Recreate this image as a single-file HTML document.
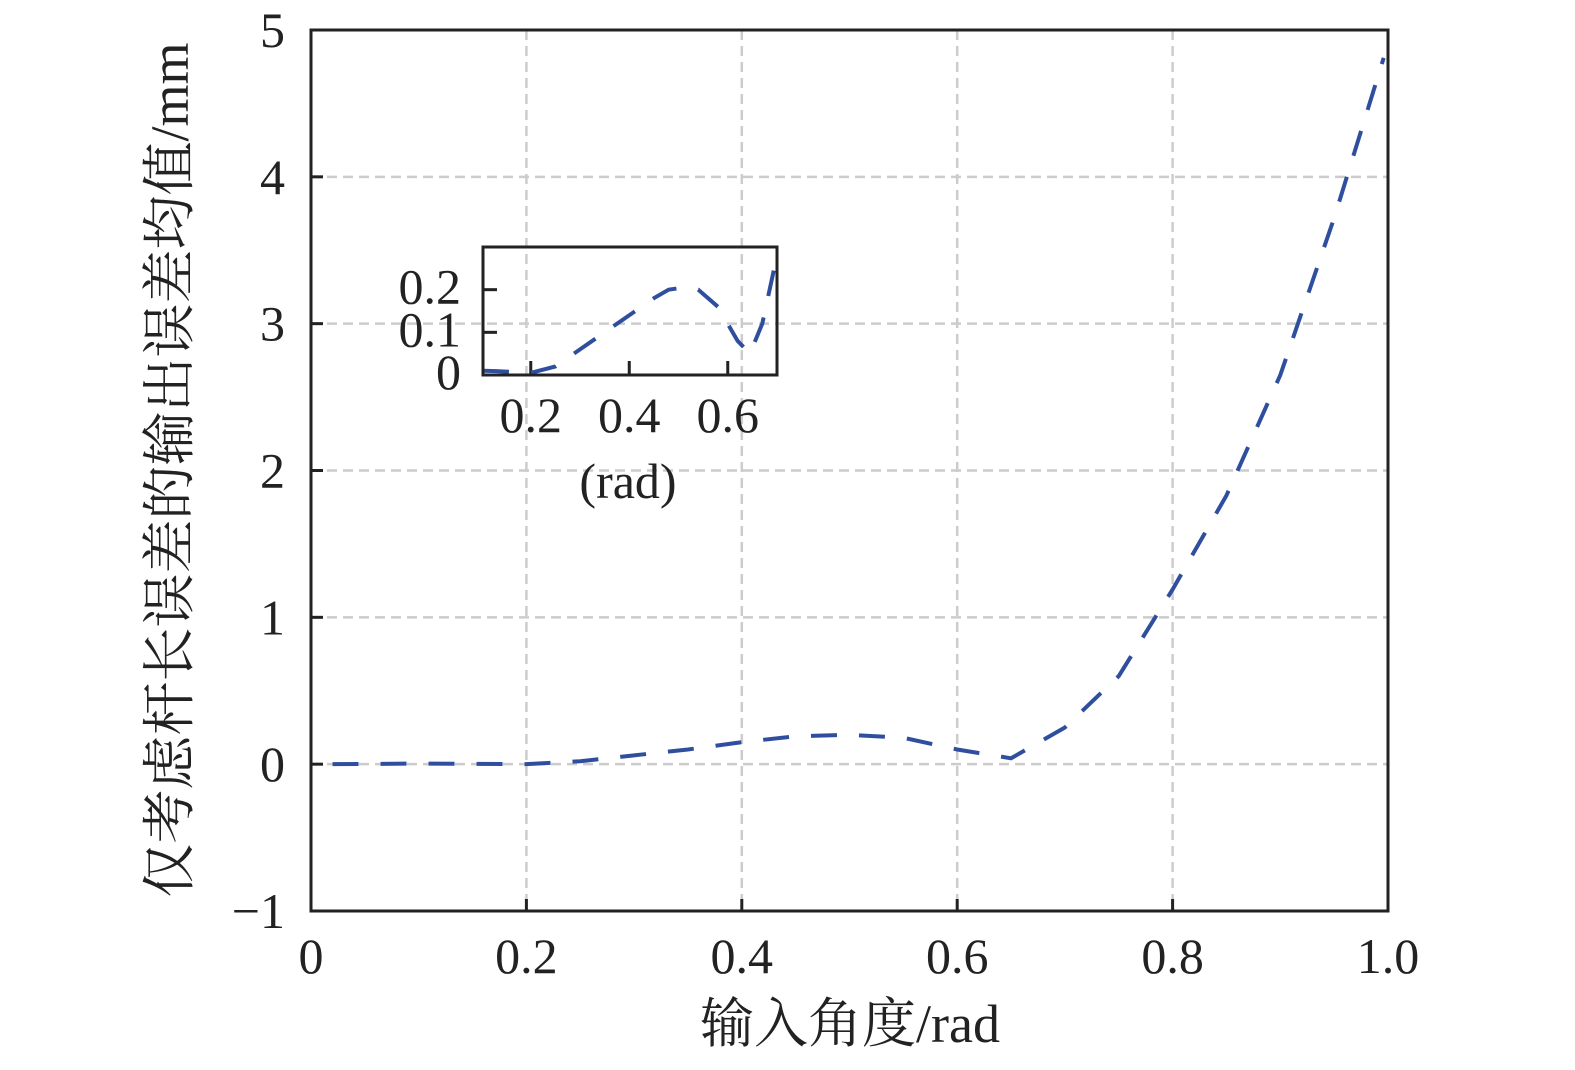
<!DOCTYPE html>
<html><head><meta charset="utf-8"><style>
body{margin:0;background:#fff;}
svg text{font-family:"Liberation Serif","Noto Serif CJK SC",serif;fill:#222;}
</style></head><body>
<svg id="chart" width="1575" height="1065" viewBox="0 0 1575 1065" xmlns="http://www.w3.org/2000/svg">
<g id="grid"></g>
<g id="series"></g>
<g id="axes"></g>
<g id="inset"></g>
<text x="850" y="1042" font-size="54" text-anchor="middle">输入角度/rad</text>
<text transform="translate(188,470) rotate(-90)" font-size="54" text-anchor="middle">仅考虑杆长误差的输出误差均值/mm</text>
</svg>
<script>
const xs = [0.02,0.1,0.2,0.25,0.3,0.35,0.4,0.45,0.5,0.55,0.6,0.65,0.7,0.75,0.8,0.85,0.9,0.95,0.996];
const ys = [0,0.004,0,0.02,0.06,0.1,0.15,0.19,0.2,0.18,0.1,0.04,0.25,0.6,1.19,1.83,2.65,3.72,4.81];
const xTicks = [0,0.2,0.4,0.6,0.8,1.0];
const xTickLabels = ["0","0.2","0.4","0.6","0.8","1.0"];
const yTicks = [-1,0,1,2,3,4,5];
const yTickLabels = ["\u22121","0","1","2","3","4","5"];
const insetXs = [0.103,0.13,0.2,0.25,0.3,0.35,0.4,0.45,0.48,0.51,0.54,0.58,0.62,0.645,0.67,0.7];
const insetYs = [0.01,0.009,0.005,0.02,0.06,0.1,0.14,0.18,0.2,0.205,0.2,0.16,0.08,0.05,0.12,0.28];
const insetXTicks = [0.2,0.4,0.6];
const insetXTickLabels = ["0.2","0.4","0.6"];
const insetYTicks = [0,0.1,0.2];
const insetYTickLabels = ["0","0.1","0.2"];

const NS="http://www.w3.org/2000/svg";
function mk(t,a,p){const e=document.createElementNS(NS,t);for(const k in a)e.setAttribute(k,a[k]);p.appendChild(e);return e;}
const L=311,R=1388,T=30,B=911;
const sx=v=>L+(v-0)/(1-0)*(R-L);
const sy=v=>B-(v+1)/6*(B-T);
const grid=document.getElementById('grid'),axes=document.getElementById('axes'),ser=document.getElementById('series'),ins=document.getElementById('inset');
xTicks.forEach((v,i)=>{
 if(v>0&&v<1){const g=mk('line',{x1:sx(v),x2:sx(v),y1:T,y2:B,stroke:'#ccc','stroke-width':2.5,'stroke-dasharray':'10 6'},grid);
 
 }
 const t=mk('line',{x1:sx(v),x2:sx(v),y1:B,y2:B-12,stroke:'#222','stroke-width':3},axes);
 
 
 const tx=mk('text',{x:sx(v),y:973,'font-size':50,'text-anchor':'middle'},axes);tx.textContent=xTickLabels[i];
 
 
});
yTicks.forEach((v,i)=>{
 if(v>-1&&v<5){const g=mk('line',{x1:L,x2:R,y1:sy(v),y2:sy(v),stroke:'#ccc','stroke-width':2.5,'stroke-dasharray':'10 6'},grid);
 
 }
 const t=mk('line',{x1:L,x2:L+12,y1:sy(v),y2:sy(v),stroke:'#222','stroke-width':3},axes);
 
 
 const tx=mk('text',{x:285,y:sy(v)+17,'font-size':50,'text-anchor':'end'},axes);tx.textContent=yTickLabels[i];
 
 
});
const fr=mk('rect',{x:L,y:T,width:R-L,height:B-T,fill:'none',stroke:'#222','stroke-width':3},axes);


const ln=mk('polyline',{points:xs.map((x,i)=>sx(x)+','+sy(ys[i])).join(' '),fill:'none',stroke:'#2f4f9e','stroke-width':4,'stroke-dasharray':'26 22'},ser);



// inset
const iL=483,iR=777,iT=247,iB=375;
const ix=v=>iL+(v-0.103)/(0.7-0.103)*(iR-iL);
const iy=v=>iB-v/0.3*(iB-iT);
insetXTicks.forEach((v,i)=>{
 const t=mk('line',{x1:ix(v),x2:ix(v),y1:iB,y2:iB-14,stroke:'#222','stroke-width':3},ins);
 
 
 const tx=mk('text',{x:ix(v),y:432,'font-size':50,'text-anchor':'middle'},ins);tx.textContent=insetXTickLabels[i];
 
 
});
insetYTicks.forEach((v,i)=>{
 const t=mk('line',{x1:iL,x2:iL+14,y1:iy(v),y2:iy(v),stroke:'#222','stroke-width':3},ins);
 
 
 const tx=mk('text',{x:461,y:iy(v)+14,'font-size':50,'text-anchor':'end'},ins);tx.textContent=insetYTickLabels[i];
 
 
});
const il=mk('polyline',{points:insetXs.map((x,i)=>ix(x)+','+iy(insetYs[i])).join(' '),fill:'none',stroke:'#2f4f9e','stroke-width':4,'stroke-dasharray':'26 22'},ins);


const ifr=mk('rect',{x:iL,y:iT,width:iR-iL,height:iB-iT,fill:'none',stroke:'#222','stroke-width':3},ins);


const iu=mk('text',{x:628,y:498,'font-size':50,'text-anchor':'middle'},ins);iu.textContent='(rad)';


</script>
</body></html>
